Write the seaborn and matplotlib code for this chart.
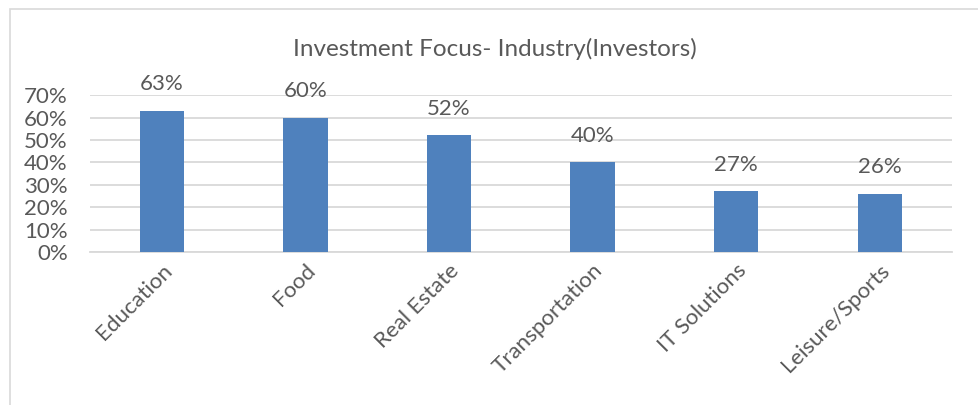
"""Investment focus by industry, bar chart."""

import matplotlib

matplotlib.use("Agg")
import matplotlib.pyplot as plt
from matplotlib.patches import Rectangle
from matplotlib.ticker import FuncFormatter
import pandas as pd
import seaborn as sns

industries = ["Education", "Food", "Real Estate", "Transportation", "IT Solutions", "Leisure/Sports"]
shares = [0.63, 0.60, 0.52, 0.40, 0.27, 0.26]
y_ticks = [0.0, 0.1, 0.2, 0.3, 0.4, 0.5, 0.6, 0.7]

BAR_COLOR = "#4F81BD"
TEXT_COLOR = "#595959"
GRID_COLOR = "#D9D9D9"

sns.set_theme(style="white")
plt.rcParams["font.family"] = ["Lato", "DejaVu Sans"]

data = pd.DataFrame({"industry": industries, "share": shares})

fig = plt.figure(figsize=(9.79, 4.05), dpi=100)
ax = fig.add_axes([0.092, 0.378, 0.880, 0.387])

sns.barplot(data=data, x="industry", y="share", color=BAR_COLOR, width=0.31,
            saturation=1, linewidth=0, ax=ax, zorder=3)

ax.set_ylim(0, 0.7)
ax.set_yticks(y_ticks)
ax.yaxis.set_major_formatter(FuncFormatter(lambda v, _p: f"{v:.0%}"))
ax.grid(True, axis="y", color=GRID_COLOR, linewidth=1.3, zorder=0)
for side in ["top", "right", "left"]:
    ax.spines[side].set_visible(False)
ax.spines["bottom"].set_color(GRID_COLOR)
ax.spines["bottom"].set_linewidth(1.3)
ax.tick_params(axis="both", length=0, colors=TEXT_COLOR, labelsize=16)
ax.tick_params(axis="y", pad=16)
ax.tick_params(axis="x", pad=6)
plt.setp(ax.get_xticklabels(), rotation=45, ha="right", rotation_mode="anchor")
ax.set_xlabel("")
ax.set_ylabel("")

for i, value in enumerate(shares):
    ax.annotate(f"{value:.0%}", (i, value), xytext=(0, 19), textcoords="offset points",
                ha="center", va="center", color=TEXT_COLOR, fontsize=16)

fig.text(0.505, 0.88, "Investment Focus- Industry(Investors)", ha="center", va="center",
         color=TEXT_COLOR, fontsize=17.5)

fig.patches.append(Rectangle((10 / 979, -0.1), 1.2, 1 - 9 / 405 + 0.1,
                             transform=fig.transFigure, fill=False,
                             edgecolor=GRID_COLOR, linewidth=1.2))

fig.savefig("out.png", dpi=100)
plt.close(fig)
